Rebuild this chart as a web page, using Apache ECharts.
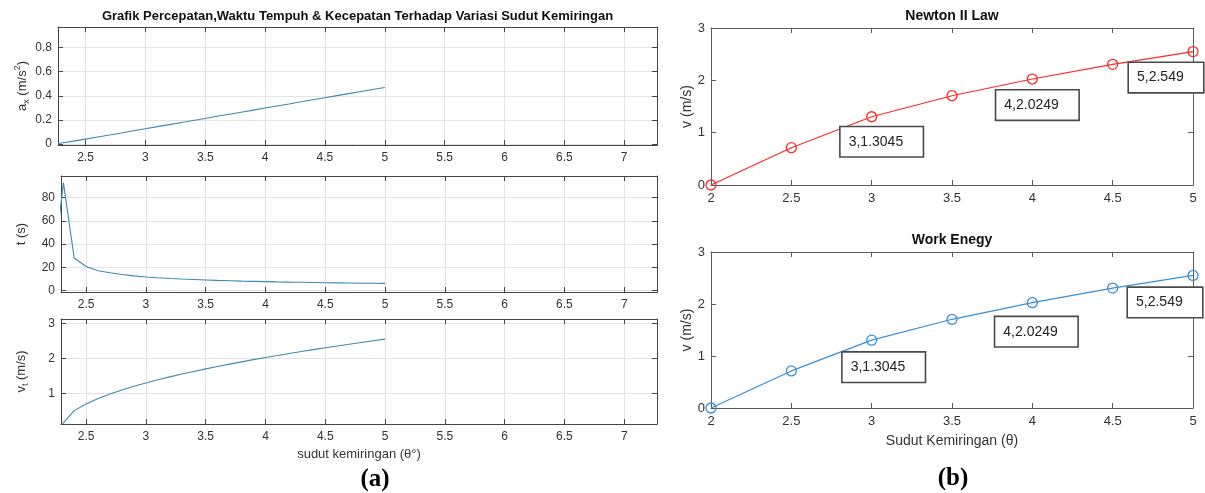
<!DOCTYPE html>
<html>
<head>
<meta charset="utf-8">
<script src="https://cdn.jsdelivr.net/npm/echarts@6/dist/echarts.min.js"></script>
<style>html,body{margin:0;padding:0;background:#fff}#c{width:1205px;height:493px}</style>
</head>
<body>
<div id="c"></div>
<script>
// ---- data ----
const sudutLeft = [2.27, 2.31, 2.4, 2.5, 2.6, 2.7, 2.8, 2.9, 3.0, 3.1, 3.2, 3.3, 3.4, 3.5, 3.6, 3.7, 3.8, 3.9, 4.0, 4.1, 4.2, 4.3, 4.4, 4.5, 4.6, 4.7, 4.8, 4.9, 5.0];
const percepatan = [0.003, 0.010, 0.024, 0.041, 0.058, 0.075, 0.092, 0.110, 0.127, 0.144, 0.161, 0.178, 0.195, 0.212, 0.230, 0.247, 0.264, 0.281, 0.298, 0.315, 0.332, 0.350, 0.367, 0.384, 0.401, 0.418, 0.435, 0.452, 0.469];
const waktu = [57, 93, 28, 20.6, 17, 15.2, 13.7, 12.5, 11.6, 10.9, 10.3, 9.8, 9.4, 9.0, 8.6, 8.3, 8.0, 7.8, 7.55, 7.3, 7.1, 7.0, 6.8, 6.6, 6.5, 6.4, 6.2, 6.1, 6.0];
const kecepatan = [0.06, 0.17, 0.52, 0.71, 0.863, 0.992, 1.106, 1.21, 1.305, 1.394, 1.478, 1.557, 1.632, 1.704, 1.773, 1.84, 1.904, 1.966, 2.026, 2.084, 2.141, 2.196, 2.25, 2.303, 2.355, 2.405, 2.454, 2.503, 2.55];

const sudutRight = [2, 2.5, 3, 3.5, 4, 4.5, 5];
const vNewton = [0, 0.713, 1.3045, 1.706, 2.0249, 2.306, 2.549];
const vWork = [0, 0.713, 1.3045, 1.706, 2.0249, 2.306, 2.549];
const annotIndex = [2, 4, 6];

const titleLeft = 'Grafik Percepatan,Waktu Tempuh & Kecepatan Terhadap Variasi Sudut Kemiringan';
const titleNewton = 'Newton II Law';
const titleWork = 'Work Enegy';

// ---- styling helpers ----
const F = "'Liberation Sans', Arial, Helvetica, sans-serif";
const SERIF = "'Liberation Serif', 'Times New Roman', serif";
const LEFT_AXIS = '#444';
const RIGHT_AXIS = '#5a5a5a';
const TXT = '#333';

function pts(xs, ys) { return xs.map((x, i) => [x, ys[i]]); }

function axisBase(gi, min, max, scale, axisColor) {
  return Object.assign({
    type: 'value', gridIndex: gi, min: min, max: max,
    axisLine: { show: true, onZero: false, lineStyle: { color: axisColor, width: 1 } },
    axisTick: { show: true, inside: true, length: 5, lineStyle: { color: axisColor, width: 1 } }
  }, scale);
}

const xAxes = [], yAxes = [];
function addAxes(gi, cfg) {
  const xb = axisBase(gi, cfg.xmin, cfg.xmax, cfg.xscale, cfg.axisColor);
  xAxes.push(Object.assign({}, xb, {
    position: 'bottom',
    axisLabel: { show: true, margin: cfg.xMargin, fontSize: cfg.fs, color: TXT, fontFamily: F,
                 showMinLabel: cfg.edgeLabels, showMaxLabel: cfg.edgeLabels },
    splitLine: { show: cfg.grid, lineStyle: { color: '#e4e4e4', width: 1 } },
    name: cfg.xName || '', nameLocation: 'middle', nameGap: cfg.xNameGap || 0, nameMoveOverlap: false,
    nameTextStyle: { fontSize: cfg.nameFs, color: TXT, fontFamily: F }
  }));
  xAxes.push(Object.assign({}, xb, {
    position: 'top', axisLabel: { show: false }, splitLine: { show: false }
  }));
  const yb = axisBase(gi, cfg.ymin, cfg.ymax, cfg.yscale, cfg.axisColor);
  yAxes.push(Object.assign({}, yb, {
    position: 'left',
    axisLabel: { show: true, margin: cfg.yMargin, fontSize: cfg.fs, color: TXT, fontFamily: F,
                 showMinLabel: cfg.edgeLabels, showMaxLabel: cfg.edgeLabels },
    splitLine: { show: cfg.grid, lineStyle: { color: '#e4e4e4', width: 1 } },
    name: cfg.yName, nameLocation: 'middle', nameRotate: 90, nameGap: cfg.yNameGap, nameMoveOverlap: false,
    nameTextStyle: {
      fontSize: cfg.nameFs, color: TXT, fontFamily: F, lineHeight: 18,
      rich: {
        sub: { fontSize: 9, color: TXT, fontFamily: F, verticalAlign: 'bottom', lineHeight: 18, padding: [6, 0, 0, 0] },
        sup: { fontSize: 9, color: TXT, fontFamily: F, verticalAlign: 'top', lineHeight: 18, padding: [0, 0, 6, 0] }
      }
    }
  }));
  yAxes.push(Object.assign({}, yb, {
    position: 'right', axisLabel: { show: false }, splitLine: { show: false }
  }));
}

// Left panel (a)
addAxes(0, { xmin: 2.27, xmax: 7.274, xscale: { splitNumber: 10 }, ymin: -0.008, ymax: 0.97, yscale: { splitNumber: 5 },
  axisColor: LEFT_AXIS, fs: 12, nameFs: 13, grid: true, edgeLabels: false, xMargin: 7, yMargin: 6,
  yName: 'a{sub|x} (m/s{sup|2})', yNameGap: 27 });
addAxes(1, { xmin: 2.29, xmax: 7.274, xscale: { splitNumber: 10 }, ymin: -1.4, ymax: 98.7, yscale: { splitNumber: 5 },
  axisColor: LEFT_AXIS, fs: 12, nameFs: 13, grid: true, edgeLabels: false, xMargin: 7, yMargin: 6,
  yName: 't (s)', yNameGap: 31 });
addAxes(2, { xmin: 2.29, xmax: 7.274, xscale: { splitNumber: 10 }, ymin: 0.14, ymax: 3.12, yscale: { splitNumber: 3 },
  axisColor: LEFT_AXIS, fs: 12, nameFs: 13, grid: true, edgeLabels: false, xMargin: 7, yMargin: 6,
  yName: 'v{sub|t} (m/s)', yNameGap: 31, xName: 'sudut kemiringan (θ°)', xNameGap: 24 });
// Right panel (b)
addAxes(3, { xmin: 2, xmax: 5, xscale: { interval: 0.5 }, ymin: 0, ymax: 3, yscale: { interval: 1 },
  axisColor: RIGHT_AXIS, fs: 13, nameFs: 14, grid: false, edgeLabels: true, xMargin: 7, yMargin: 6,
  yName: 'v (m/s)', yNameGap: 15 });
addAxes(4, { xmin: 2, xmax: 5, xscale: { interval: 0.5 }, ymin: 0, ymax: 3, yscale: { interval: 1 },
  axisColor: RIGHT_AXIS, fs: 13, nameFs: 14, grid: false, edgeLabels: true, xMargin: 7, yMargin: 6,
  yName: 'v (m/s)', yNameGap: 15, xName: 'Sudut Kemiringan (θ)', xNameGap: 26 });

const LEFT_LINE = '#3b89b6';
function leftSeries(gi, ys) {
  return { type: 'line', xAxisIndex: gi * 2, yAxisIndex: gi * 2, data: pts(sudutLeft, ys),
    showSymbol: false, symbol: 'none', clip: true, lineStyle: { color: LEFT_LINE, width: 1.1 }, z: 3 };
}

const boxOffsets = [
  [[-31, 25], [-36, 26], [-64, 26]],
  [[-29, 27], [-37, 29], [-65, 27]]
];
const boxWidths = [66, 66, 58];

function rightSeries(gi, ys, color, k) {
  return {
    type: 'line', xAxisIndex: gi * 2, yAxisIndex: gi * 2, data: pts(sudutRight, ys),
    symbol: 'circle', symbolSize: 10, showSymbol: true,
    lineStyle: { color: color, width: 1.2 },
    itemStyle: { color: 'rgba(255,255,255,0)', borderColor: color, borderWidth: 1.3 },
    z: 3,
    markPoint: {
      symbol: 'circle', symbolSize: 0, silent: true,
      data: annotIndex.map((idx, j) => ({
        coord: [sudutRight[idx], ys[idx]],
        value: sudutRight[idx] + ',' + ys[idx],
        label: {
          show: true, position: 'inside', offset: boxOffsets[k][j],
          formatter: sudutRight[idx] + ',' + ys[idx],
          align: 'left', verticalAlign: 'middle',
          width: boxWidths[j], height: 29, lineHeight: 29, padding: [0, 8],
          backgroundColor: '#fff', borderColor: '#4a4a4a', borderWidth: 1.6,
          color: '#222', fontSize: 14, fontFamily: F
        }
      }))
    }
  };
}

const option = {
  animation: false,
  backgroundColor: '#fff',
  title: [
    { text: titleLeft, left: 357.5, top: 10, textAlign: 'center', padding: 0,
      textStyle: { fontSize: 13, fontWeight: 'bold', color: '#111', fontFamily: F } },
    { text: titleNewton, left: 952, top: 9, textAlign: 'center', padding: 0,
      textStyle: { fontSize: 14, fontWeight: 'bold', color: '#111', fontFamily: F } },
    { text: titleWork, left: 952, top: 233, textAlign: 'center', padding: 0,
      textStyle: { fontSize: 14, fontWeight: 'bold', color: '#111', fontFamily: F } },
    { text: '(a)', left: 375, top: 467, textAlign: 'center', padding: 0,
      textStyle: { fontSize: 25, fontWeight: 'bold', color: '#000', fontFamily: SERIF } },
    { text: '(b)', left: 953, top: 466, textAlign: 'center', padding: 0,
      textStyle: { fontSize: 25, fontWeight: 'bold', color: '#000', fontFamily: SERIF } }
  ],
  grid: [
    { left: 58, top: 27, width: 599, height: 118 },
    { left: 61, top: 176, width: 596, height: 116 },
    { left: 61, top: 319, width: 596, height: 105 },
    { left: 711, top: 28, width: 482, height: 157 },
    { left: 711, top: 252, width: 482, height: 156 }
  ],
  xAxis: xAxes,
  yAxis: yAxes,
  series: [
    leftSeries(0, percepatan),
    leftSeries(1, waktu),
    leftSeries(2, kecepatan),
    rightSeries(3, vNewton, '#ff2a2a', 0),
    rightSeries(4, vWork, '#3a8fd6', 1)
  ]
};

const chart = echarts.init(document.getElementById('c'), null, { renderer: 'canvas' });
chart.setOption(option);
</script>
</body>
</html>
